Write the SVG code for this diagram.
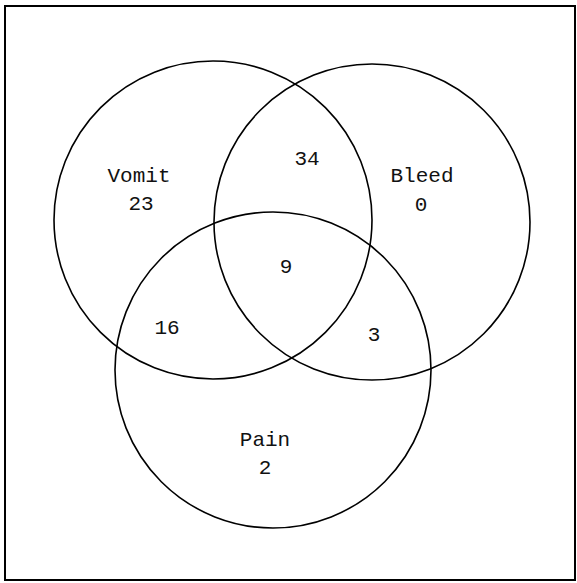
<svg xmlns="http://www.w3.org/2000/svg" width="577" height="583" viewBox="0 0 577 583">
<style>
.set{fill:none;stroke:#000;stroke-width:1.6}
.frame{fill:none;stroke:#000;stroke-width:2}
text{font-family:"Liberation Mono","DejaVu Sans Mono",monospace;font-size:21px;fill:#111;text-anchor:middle}
</style>
<rect width="577" height="583" fill="#fff"/>
<rect class="frame" x="5" y="6" width="570" height="574"/>
<g id="vomit">
<circle class="set" cx="213" cy="220" r="159"/>
<text x="139" y="182">Vomit</text>
<text x="141" y="210">23</text>
</g>
<g id="bleed">
<circle class="set" cx="372" cy="222" r="158"/>
<text x="422" y="182">Bleed</text>
<text x="421" y="211">0</text>
</g>
<g id="pain">
<circle class="set" cx="273" cy="370" r="158"/>
<text x="265" y="446">Pain</text>
<text x="265" y="474">2</text>
</g>
<g id="overlaps">
<text x="307" y="165">34</text>
<text x="286" y="273">9</text>
<text x="167" y="334">16</text>
<text x="374" y="341">3</text>
</g>
</svg>
